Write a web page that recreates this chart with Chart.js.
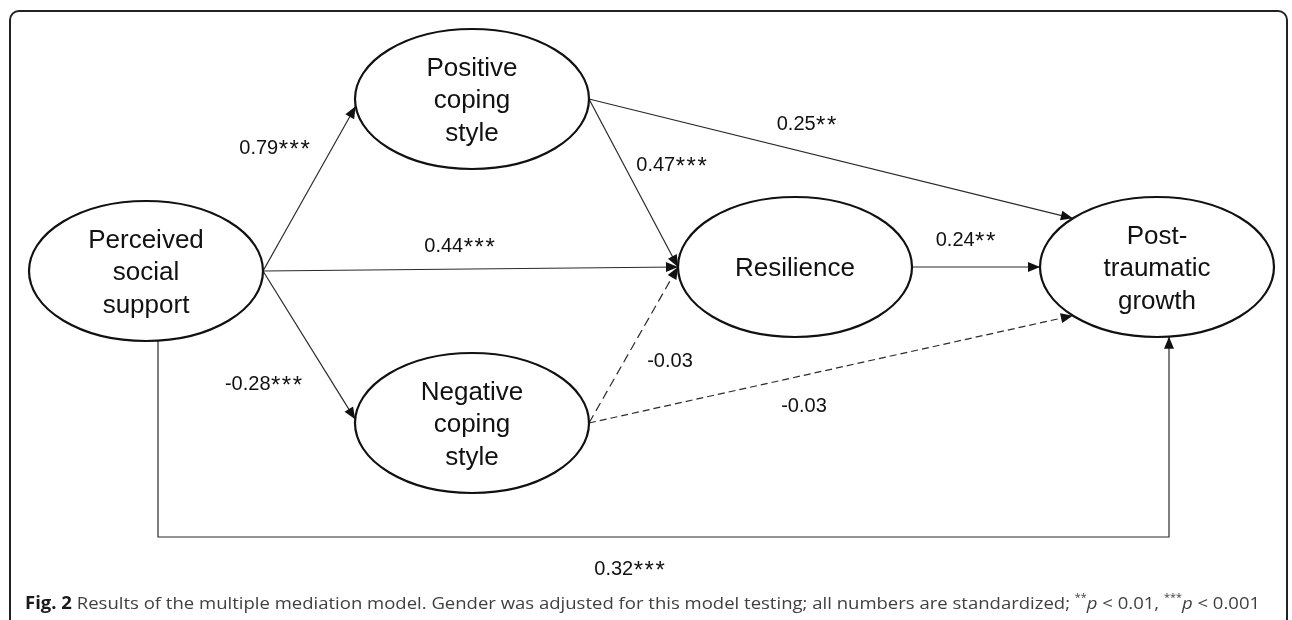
<!DOCTYPE html>
<html>
<head>
<meta charset="utf-8">
<script src="https://cdn.jsdelivr.net/npm/chart.js@4.4.1/dist/chart.umd.min.js"></script>
<style>
  html, body { margin: 0; padding: 0; background: #fff; }
  #wrap { position: relative; width: 1292px; height: 620px; overflow: hidden; }
  #frame { position: absolute; left: 9px; top: 10px; width: 1279px; height: 640px;
           border: 2px solid #222; border-radius: 10px; box-sizing: border-box; }
  #diagram { position: absolute; left: 0; top: 0; }
  #caption { position: absolute; left: 25px; top: 590px; white-space: nowrap;
             font-family: "Open Sans", sans-serif; font-size: 17px; color: #404040;
             transform-origin: left top; }
  #caption b { color: #1a1a1a; }
  #caption sup { font-size: 10px; vertical-align: 8px; }
</style>
</head>
<body>
<div id="wrap">
  <div id="frame"></div>
  <canvas id="diagram" width="1292" height="620"></canvas>
  <div id="caption"><b>Fig. 2</b> Results of the multiple mediation model. Gender was adjusted for this model testing; all numbers are standardized; <sup>**</sup><i>p</i> &lt; 0.01, <sup>***</sup><i>p</i> &lt; 0.001</div>
</div>
<script>
// --- Data: nodes of the path model ---
const nodeLabels = [
    ['Perceived', 'social', 'support'],
    ['Positive', 'coping', 'style'],
    ['Negative', 'coping', 'style'],
    ['Resilience'],
    ['Post-', 'traumatic', 'growth']
];
const nodeX = [146, 472, 472, 795, 1157];
const nodeY = [271, 99, 423, 267, 267];

// --- Data: paths and standardized coefficients ---
const pathFrom = [0, 0, 0, 1, 1, 2, 2, 3, 0];
const pathTo   = [1, 3, 2, 3, 4, 3, 4, 4, 4];
const pathCoef = ['0.79***', '0.44***', '-0.28***', '0.47***', '0.25**', '-0.03', '-0.03', '0.24**', '0.32***'];
const pathSig  = [true, true, true, true, true, false, false, true, true];

// --- Layout (not data) ---
const RX = 117, RY = 70;
// angle on the ellipse where each path leaves / arrives (deg, 0 = right, 90 = down)
const startAngle = [0, 0, 0, 0, 0, 0, 0, 0, 90];
const endAngle   = [174, 180, 183, 180, 224, 180, 136, 180, 90];
const dashes     = [[], [], [], [], [], [9, 5], [7, 4], [], []];
const coefPos = [[275, 147], [460, 245], [264, 383], [672, 164], [807, 123],
                 [670, 360], [804, 405], [966, 239], [630, 568]];
const elbow = { x0: 158, x1: 1169, y: 537 };

function onEllipse(i, deg) {
    const a = deg * Math.PI / 180;
    return { x: nodeX[i] + RX * Math.cos(a), y: nodeY[i] + RY * Math.sin(a) };
}
function bottomAt(i, x) {
    const t = (x - nodeX[i]) / RX;
    return { x: x, y: nodeY[i] + RY * Math.sqrt(1 - t * t) };
}

// --- Build one line dataset per path ---
const datasets = pathFrom.map((f, k) => {
    const t = pathTo[k];
    let pts;
    if (startAngle[k] === 90 && endAngle[k] === 90) {
        const a = bottomAt(f, elbow.x0), b = bottomAt(t, elbow.x1);
        pts = [a, { x: elbow.x0, y: elbow.y }, { x: elbow.x1, y: elbow.y }, b];
    } else {
        pts = [onEllipse(f, startAngle[k]), onEllipse(t, endAngle[k])];
    }
    return {
        data: pts,
        showLine: true,
        pointRadius: 0,
        borderColor: '#2a2a2a',
        borderWidth: 1.2,
        borderDash: pathSig[k] ? [] : dashes[k],
        tension: 0
    };
});

// coefficient text: number part at 20px, stars a bit larger and spaced
const NUM_FONT = '20px "Liberation Sans", Arial, sans-serif';
const STAR_FONT = '24px "Liberation Sans", Arial, sans-serif';
function drawCoef(ctx, text, x, y) {
    const m = text.match(/^([^*]*)(\**)$/);
    const num = m[1], stars = m[2];
    ctx.textAlign = 'left';
    ctx.textBaseline = 'alphabetic';
    ctx.font = NUM_FONT;
    ctx.letterSpacing = '0px';
    const wNum = ctx.measureText(num).width;
    ctx.font = STAR_FONT;
    ctx.letterSpacing = '1.5px';
    const wStars = stars ? ctx.measureText(stars).width : 0;
    const x0 = x - (wNum + wStars) / 2;
    const base = y + 7;
    ctx.font = NUM_FONT;
    ctx.letterSpacing = '0px';
    ctx.fillText(num, x0, base);
    if (stars) {
        ctx.font = STAR_FONT;
        ctx.letterSpacing = '1.5px';
        ctx.fillText(stars, x0 + wNum + 0.5, base + 3);
        ctx.letterSpacing = '0px';
    }
}

// --- Plugin: ellipses, arrowheads, labels ---
const pathDiagram = {
    id: 'pathDiagram',
    afterDatasetsDraw(chart) {
        const ctx = chart.ctx;
        const sx = chart.scales.x, sy = chart.scales.y;
        ctx.save();

        // arrowheads
        chart.data.datasets.forEach(ds => {
            const n = ds.data.length;
            const p = ds.data[n - 2], q = ds.data[n - 1];
            const x1 = sx.getPixelForValue(p.x), y1 = sy.getPixelForValue(p.y);
            const x2 = sx.getPixelForValue(q.x), y2 = sy.getPixelForValue(q.y);
            const ang = Math.atan2(y2 - y1, x2 - x1);
            const L = 12, W = 5;
            ctx.beginPath();
            ctx.moveTo(x2, y2);
            ctx.lineTo(x2 - L * Math.cos(ang) + W * Math.sin(ang), y2 - L * Math.sin(ang) - W * Math.cos(ang));
            ctx.lineTo(x2 - L * Math.cos(ang) - W * Math.sin(ang), y2 - L * Math.sin(ang) + W * Math.cos(ang));
            ctx.closePath();
            ctx.fillStyle = '#111';
            ctx.fill();
        });

        // ellipses with labels
        nodeLabels.forEach((lines, i) => {
            const cx = sx.getPixelForValue(nodeX[i]), cy = sy.getPixelForValue(nodeY[i]);
            const rx = Math.abs(sx.getPixelForValue(nodeX[i] + RX) - cx);
            const ry = Math.abs(sy.getPixelForValue(nodeY[i] + RY) - cy);
            ctx.beginPath();
            ctx.ellipse(cx, cy, rx, ry, 0, 0, Math.PI * 2);
            ctx.lineWidth = 2.2;
            ctx.strokeStyle = '#111';
            ctx.stroke();
            ctx.fillStyle = '#111';
            ctx.font = '26px "Liberation Sans", Arial, sans-serif';
            ctx.textAlign = 'center';
            ctx.textBaseline = 'middle';
            const lh = 32.5;
            lines.forEach((s, j) => {
                ctx.fillText(s, cx, cy + 2 + (j - (lines.length - 1) / 2) * lh);
            });
        });

        // coefficients
        ctx.fillStyle = '#111';
        pathCoef.forEach((c, k) => {
            drawCoef(ctx, c, sx.getPixelForValue(coefPos[k][0]), sy.getPixelForValue(coefPos[k][1]));
        });
        ctx.restore();
    }
};

new Chart(document.getElementById('diagram'), {
    type: 'scatter',
    data: { datasets: datasets },
    options: {
        responsive: false,
        animation: false,
        layout: { padding: 0 },
        plugins: { legend: { display: false }, tooltip: { enabled: false } },
        scales: {
            x: { type: 'linear', min: 0, max: 1292, display: false },
            y: { type: 'linear', min: 0, max: 620, reverse: true, display: false }
        }
    },
    plugins: [pathDiagram]
});

// stretch caption to the width used in the figure
const cap = document.getElementById('caption');
cap.style.transform = 'scaleX(' + (1235 / cap.offsetWidth) + ')';
</script>
</body>
</html>
